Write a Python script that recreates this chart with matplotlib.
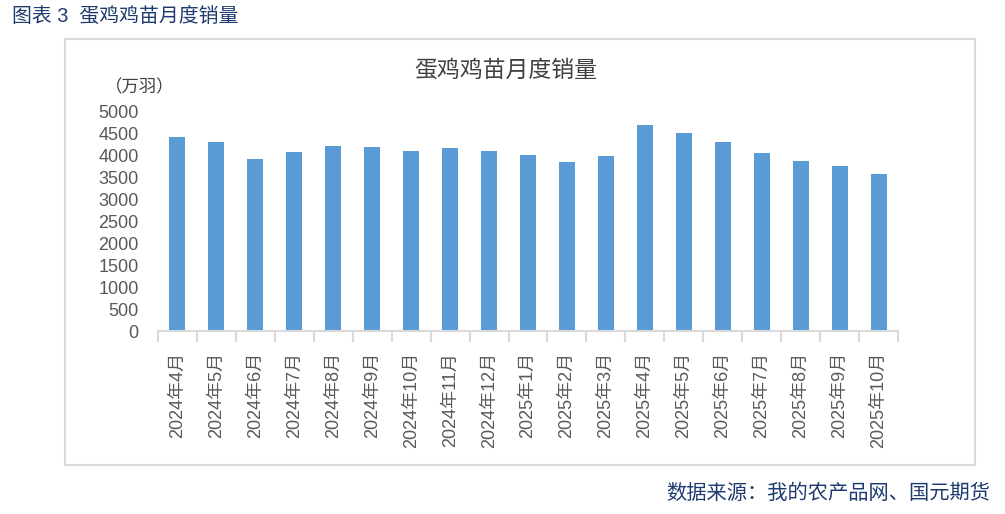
import numpy as np
import matplotlib.pyplot as plt
from matplotlib.patches import Rectangle

plt.rcParams['font.family'] = ['Liberation Sans', 'Noto Sans CJK SC']

# 数据（万羽）
months = ["2024年4月", "2024年5月", "2024年6月", "2024年7月", "2024年8月",
          "2024年9月", "2024年10月", "2024年11月", "2024年12月", "2025年1月",
          "2025年2月", "2025年3月", "2025年4月", "2025年5月", "2025年6月",
          "2025年7月", "2025年8月", "2025年9月", "2025年10月"]
sales = [4420, 4307, 3927, 4079, 4223, 4200, 4109, 4177, 4109, 4018,
         3858, 3995, 4702, 4519, 4314, 4063, 3881, 3767, 3585]
yticks = [0, 500, 1000, 1500, 2000, 2500, 3000, 3500, 4000, 4500, 5000]

W, H = 1005, 514
fig = plt.figure(figsize=(W / 100, H / 100), dpi=100)

# 图表外框
fig.patches.append(Rectangle((65 / W, 1 - 465 / H), 910 / W, 426 / H,
                             transform=fig.transFigure, fill=False,
                             edgecolor="#d9d9d9", linewidth=1.5))

ax = fig.add_axes([158 / W, 1 - 331 / H, 740 / W, 219 / H])
x = np.arange(len(months))
ax.bar(x, sales, width=0.41, color="#5b9bd5", zorder=2)

ax.set_xlim(-0.5, len(months) - 0.5)
ax.set_ylim(0, 5000)
ax.set_yticks(yticks)
ax.set_yticklabels([str(v) for v in yticks], fontsize=13, color="#595959")
ax.tick_params(axis="y", length=0, pad=14)

ax.set_xticks(x)
ax.set_xticklabels(months, rotation=90, fontsize=13, color="#595959",
                   va="top", ha="center")
ax.set_xticks(np.arange(-0.5, len(months)), minor=True)
ax.tick_params(axis="x", which="major", length=0, pad=15)
ax.tick_params(axis="x", which="minor", length=8, width=1.5, color="#d9d9d9")

for s in ["top", "right", "left"]:
    ax.spines[s].set_visible(False)
ax.spines["bottom"].set_color("#d9d9d9")
ax.spines["bottom"].set_linewidth(1.5)

# 标题和文字
fig.text(506 / W, 1 - 70 / H, "蛋鸡鸡苗月度销量", fontsize=16.5, color="#404040",
         ha="center", va="center")
fig.text(140 / W, 1 - 87 / H, "（万羽）", fontsize=12.5, color="#404040",
         ha="center", va="center")
fig.text(12 / W, 1 - 16 / H, "图表 3  蛋鸡鸡苗月度销量", fontsize=14.3, color="#1f3a6e",
         ha="left", va="center")
fig.text(990 / W, 1 - 493 / H, "数据来源：我的农产品网、国元期货", fontsize=14.6,
         color="#1f3a6e", ha="right", va="center")

fig.savefig("out.png", dpi=100)
